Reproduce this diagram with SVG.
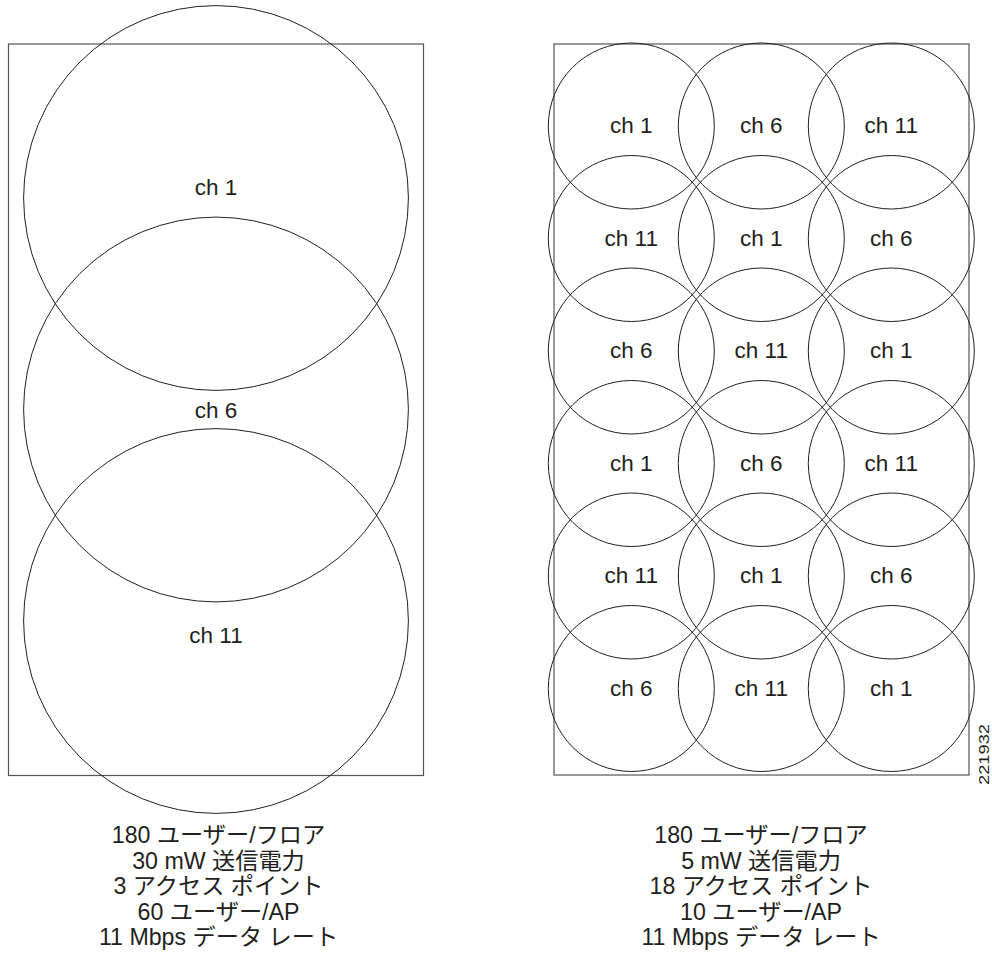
<svg xmlns="http://www.w3.org/2000/svg" width="992" height="953" viewBox="0 0 992 953">
<style>
.frame{fill:none;stroke:#555;stroke-width:1.2}
.cell{fill:none;stroke:#231f20;stroke-width:1}
.lbl{font-family:"Liberation Sans","Noto Sans CJK JP",sans-serif;font-size:22.5px;fill:#231f20;text-anchor:middle}
.cap{font-family:"Liberation Sans","Noto Sans CJK JP",sans-serif;font-size:23.2px;fill:#231f20;text-anchor:middle}
.id{font-family:"Liberation Sans",sans-serif;font-size:14px;fill:#231f20;text-anchor:middle}
</style>
<rect width="992" height="953" fill="#fff"/>
<g id="left">
  <rect class="frame" x="8.5" y="44" width="415" height="731.5"/>
  <g id="L1"><circle class="cell" cx="216" cy="198" r="192.4"/><text class="lbl" x="216" y="195">ch 1</text></g>
  <g id="L2"><circle class="cell" cx="216" cy="409.5" r="192.4"/><text class="lbl" x="216" y="418">ch 6</text></g>
  <g id="L3"><circle class="cell" cx="216" cy="621" r="192.4"/><text class="lbl" x="216" y="643">ch 11</text></g>
  <g id="Lcap">
    <text class="cap" x="218.5" y="843">180 ユーザー/フロア</text>
    <text class="cap" x="218.5" y="868.5">30 mW 送信電力</text>
    <text class="cap" x="218.5" y="894">3 アクセス ポイント</text>
    <text class="cap" x="218.5" y="919.5">60 ユーザー/AP</text>
    <text class="cap" x="218.5" y="945">11 Mbps データ レート</text>
  </g>
</g>
<g id="right">
  <rect class="frame" x="554" y="44" width="415" height="731"/>
  <g id="R11"><circle class="cell" cx="631.3" cy="126" r="83"/><text class="lbl" x="631.3" y="133">ch 1</text></g>
  <g id="R12"><circle class="cell" cx="761.3" cy="126" r="83"/><text class="lbl" x="761.3" y="133">ch 6</text></g>
  <g id="R13"><circle class="cell" cx="891.3" cy="126" r="83"/><text class="lbl" x="891.3" y="133">ch 11</text></g>
  <g id="R21"><circle class="cell" cx="631.3" cy="238.5" r="83"/><text class="lbl" x="631.3" y="245.5">ch 11</text></g>
  <g id="R22"><circle class="cell" cx="761.3" cy="238.5" r="83"/><text class="lbl" x="761.3" y="245.5">ch 1</text></g>
  <g id="R23"><circle class="cell" cx="891.3" cy="238.5" r="83"/><text class="lbl" x="891.3" y="245.5">ch 6</text></g>
  <g id="R31"><circle class="cell" cx="631.3" cy="351" r="83"/><text class="lbl" x="631.3" y="358">ch 6</text></g>
  <g id="R32"><circle class="cell" cx="761.3" cy="351" r="83"/><text class="lbl" x="761.3" y="358">ch 11</text></g>
  <g id="R33"><circle class="cell" cx="891.3" cy="351" r="83"/><text class="lbl" x="891.3" y="358">ch 1</text></g>
  <g id="R41"><circle class="cell" cx="631.3" cy="463.5" r="83"/><text class="lbl" x="631.3" y="470.5">ch 1</text></g>
  <g id="R42"><circle class="cell" cx="761.3" cy="463.5" r="83"/><text class="lbl" x="761.3" y="470.5">ch 6</text></g>
  <g id="R43"><circle class="cell" cx="891.3" cy="463.5" r="83"/><text class="lbl" x="891.3" y="470.5">ch 11</text></g>
  <g id="R51"><circle class="cell" cx="631.3" cy="576" r="83"/><text class="lbl" x="631.3" y="583">ch 11</text></g>
  <g id="R52"><circle class="cell" cx="761.3" cy="576" r="83"/><text class="lbl" x="761.3" y="583">ch 1</text></g>
  <g id="R53"><circle class="cell" cx="891.3" cy="576" r="83"/><text class="lbl" x="891.3" y="583">ch 6</text></g>
  <g id="R61"><circle class="cell" cx="631.3" cy="688.5" r="83"/><text class="lbl" x="631.3" y="695.5">ch 6</text></g>
  <g id="R62"><circle class="cell" cx="761.3" cy="688.5" r="83"/><text class="lbl" x="761.3" y="695.5">ch 11</text></g>
  <g id="R63"><circle class="cell" cx="891.3" cy="688.5" r="83"/><text class="lbl" x="891.3" y="695.5">ch 1</text></g>
  <g id="Rcap">
    <text class="cap" x="761" y="843">180 ユーザー/フロア</text>
    <text class="cap" x="761" y="868.5">5 mW 送信電力</text>
    <text class="cap" x="761" y="894">18 アクセス ポイント</text>
    <text class="cap" x="761" y="919.5">10 ユーザー/AP</text>
    <text class="cap" x="761" y="945">11 Mbps データ レート</text>
  </g>
</g>
<g id="connectors"/>
<text class="id" transform="translate(989,754.5) rotate(-90)" textLength="61" lengthAdjust="spacingAndGlyphs">221932</text>
</svg>
